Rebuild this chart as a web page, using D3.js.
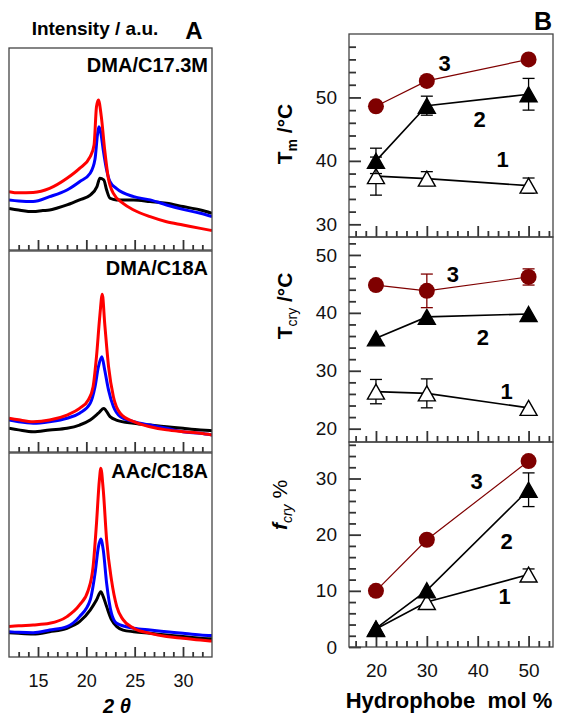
<!DOCTYPE html>
<html>
<head>
<meta charset="utf-8">
<script src="https://cdn.jsdelivr.net/npm/d3@7"></script>
<style>
  html, body { margin: 0; padding: 0; background: #fff; }
  svg { display: block; font-family: "Liberation Sans", Arial, sans-serif; }
</style>
</head>
<body>
<div id="chart"></div>
<script>
(() => {
  "use strict";

  // ---- Panel A: XRD patterns, [2theta, intensity a.u.] ----
  const c17Black = [[12,20.6],[13,19.8],[14.5,19],[15.5,19.5],[16.2,19.8],[17,20.8],[18,22.3],[19.3,24.8],[20.4,27.2],[21.1,31.4],[21.4,35.5],[21.8,34.7],[22.1,29.7],[22.45,25.6],[23.1,24.8],[24.9,24.8],[26.6,24],[28.3,23.1],[30,21.5],[31.8,19.8],[33,18.2]];
  const c17Blue = [[12,24.8],[13,24.3],[14.5,24],[16.2,26.4],[18,29.7],[19.3,33.8],[20.4,38],[20.9,45],[21.15,57],[21.3,61],[21.5,58],[21.75,49.5],[22.1,39.6],[22.45,33.8],[23.1,30.5],[24.9,26.4],[26.6,24.8],[28.3,22.3],[30,20.1],[31.8,18.2],[33,16.5]];
  const c17Red = [[12,28.9],[13,28.3],[14.5,28.5],[16.2,30.5],[18,35.5],[19.3,40.4],[20.4,46.2],[20.8,52],[21.05,70.9],[21.25,74.3],[21.55,66],[21.9,49.5],[22.25,36.3],[22.8,28],[23.8,23.1],[24.9,19.8],[26.6,16.5],[28.3,14],[30,12.4],[31.8,10.7],[33,9.6]];

  const c18Black = [[12,11.8],[13,11],[14.5,10.1],[16.2,11],[18,11.8],[19.3,13.4],[20.4,15.9],[21.25,19.3],[21.8,21.7],[22.45,17.6],[23.1,15.9],[24.9,14.3],[26.6,13.4],[28.3,12.6],[30,11.8],[31.8,11],[33,10.6]];
  const c18Blue = [[12,15.9],[13,15],[14.5,14.3],[16.2,15.1],[18,16.8],[19.3,19.3],[20.4,24.2],[20.9,32.5],[21.25,42.4],[21.6,47.4],[21.9,40.8],[22.3,30.8],[22.8,22.6],[23.5,17.6],[24.9,15.1],[26.6,13.4],[28.3,11.8],[30,10.1],[31.8,9.3],[33,8.5]];
  const c18Red = [[12,16.8],[13,16],[14.5,15.1],[16.2,15.9],[18,18.4],[19.3,21.7],[20.2,25.9],[20.7,32.5],[21.05,47.4],[21.4,68],[21.65,78.5],[21.9,64],[22.3,42.4],[22.8,27.5],[23.5,19.3],[24.9,15.1],[26.6,12.6],[28.3,11],[30,10.1],[31.8,9.3],[33,8.5]];

  const aacBlack = [[12,11.9],[13,11.6],[14.5,11.3],[16.2,12.4],[18,14.1],[19.3,17.3],[20.4,23],[21.05,27.9],[21.5,32],[21.75,29.6],[22.1,24.7],[22.6,18.3],[23.15,14.9],[23.8,13.2],[24.9,12.4],[26.6,11.6],[28.3,10.8],[30,10],[31.8,9.2],[33,8.9]];
  const aacBlue = [[12,12.4],[13,12.1],[14.5,11.9],[16.2,13.2],[18,14.9],[19.3,19.8],[20.4,27.9],[20.9,41],[21.25,54],[21.5,57.8],[21.75,52.5],[22.1,36.1],[22.6,21.4],[23.15,16.5],[24.9,14.1],[26.6,13.2],[28.3,12.4],[30,11.6],[31.8,10.8],[33,10.5]];
  const aacRed = [[12,14.9],[13,15.3],[14.5,15.7],[16.2,16.5],[18,19.8],[19.3,25.5],[20.2,32.8],[20.7,44.3],[21.05,65.4],[21.35,86.8],[21.5,92.5],[21.75,81.9],[22.1,57.4],[22.6,37.8],[23.15,24.7],[23.8,18.3],[24.9,14.1],[26.6,11.6],[28.3,10],[30,9.2],[31.8,8.3],[33,7.8]];

  const xrdPanels = [
    { name: "DMA/C17.3M", curves: [c17Black, c17Blue, c17Red] },
    { name: "DMA/C18A",   curves: [c18Black, c18Blue, c18Red] },
    { name: "AAc/C18A",   curves: [aacBlack, aacBlue, aacRed] }
  ];
  const xrdColors = ["#000000", "#0000ff", "#ff0000"];
  const xrdTickLabels = [15, 20, 25, 30];

  // ---- Panel B: thermal data vs hydrophobe mol % ----
  const hydrophobe = [20, 30, 50];
  const tm1 = [37.6, 37.2, 36.1], tm1Err = [3.0, 1.1, 1.2];
  const tm2 = [40.0, 48.7, 50.5], tm2Err = [2.0, 1.5, 2.5];
  const tm3 = [48.6, 52.6, 56.0], tm3Err = [0, 0, 0];
  const tc1 = [26.4, 26.1, 23.6], tc1Err = [2.1, 2.5, 0];
  const tc2 = [35.6, 39.3, 39.8], tc2Err = [0, 0, 0];
  const tc3 = [44.8, 43.8, 46.2], tc3Err = [0.8, 2.9, 1.4];
  const fc1 = [3.2, 8.0, 12.9], fc1Err = [0, 0, 1.0];
  const fc2 = [3.3, 10.1, 28.0], fc2Err = [0, 0, 3.0];
  const fc3 = [10.0, 19.1, 33.1], fc3Err = [0, 0, 0];
  const xTicksB = [20, 30, 40, 50];

  const W = 565, H = 718;
  const DARKRED = "#7f0000";
  const FRAME = "#444";
  const TICK = "#333";

  const svg = d3.select("#chart").append("svg").attr("width", W).attr("height", H);
  svg.append("rect").attr("width", W).attr("height", H).attr("fill", "#fff");

  function styleAxis(sel, fontSize) {
    sel.selectAll(".domain").remove();
    sel.selectAll(".tick line").attr("stroke", TICK).attr("stroke-width", 1.8);
    sel.selectAll(".tick text").attr("font-size", fontSize).attr("font-family", null).attr("fill", "#111");
  }

  // =================== Panel A ===================
  const aLeft = 9, aRight = 212;
  const aBoxes = [[48, 250], [251, 452], [453, 657]];
  const xA = d3.scaleLinear().domain([12, 33]).range([aLeft, aRight]);
  const minorA = d3.range(13, 33, 1).filter(v => v % 5 !== 0);

  svg.append("text").attr("x", 95).attr("y", 35).attr("text-anchor", "middle")
    .attr("font-size", 19).attr("font-weight", "bold").text("Intensity / a.u.");
  svg.append("text").attr("x", 194).attr("y", 39).attr("text-anchor", "middle")
    .attr("font-size", 24).attr("font-weight", "bold").text("A");

  xrdPanels.forEach((p, i) => {
    const [top, bot] = aBoxes[i];
    const y = d3.scaleLinear().domain([0, 100]).range([bot, top]);
    const g = svg.append("g");
    const line = d3.line().x(d => xA(d[0])).y(d => y(d[1])).curve(d3.curveMonotoneX);
    const clipId = "clipA" + i;
    svg.append("clipPath").attr("id", clipId).append("rect")
      .attr("x", aLeft).attr("y", top).attr("width", aRight - aLeft).attr("height", bot - top);
    g.append("g").attr("clip-path", `url(#${clipId})`)
      .selectAll("path").data(p.curves).join("path")
      .attr("d", line).attr("fill", "none")
      .attr("stroke", (d, k) => xrdColors[k]).attr("stroke-width", 3)
      .attr("stroke-linejoin", "round");

    const ga = g.append("g").attr("transform", `translate(0,${bot})`);
    ga.append("g").call(d3.axisBottom(xA).tickValues(minorA).tickSize(-5).tickFormat(() => ""));
    ga.append("g").call(d3.axisBottom(xA).tickValues(xrdTickLabels).tickSize(-10).tickPadding(17)
      .tickFormat(i === 2 ? d3.format("d") : () => ""));
    styleAxis(ga, 18);

    g.append("rect").attr("x", aLeft).attr("y", top).attr("width", aRight - aLeft).attr("height", bot - top)
      .attr("fill", "none").attr("stroke", FRAME).attr("stroke-width", 1.3);
    g.append("text").attr("x", aRight - 4).attr("y", top + (i === 2 ? 25 : 24)).attr("text-anchor", "end")
      .attr("font-size", 20).attr("font-weight", "bold").text(p.name);
  });

  svg.append("text").attr("x", 117).attr("y", 713).attr("text-anchor", "middle")
    .attr("font-size", 20).attr("font-weight", "bold").attr("font-style", "italic")
    .text("2 θ");

  // =================== Panel B ===================
  const bLeft = 349, bRight = 553;
  const xB = d3.scaleLinear().domain([14.7, 54.8]).range([bLeft, bRight]);
  const minorXB = d3.range(16, 55, 2).filter(v => v % 10 !== 0);

  svg.append("text").attr("x", 543).attr("y", 30).attr("text-anchor", "middle")
    .attr("font-size", 25).attr("font-weight", "bold").text("B");

  const panelsB = [
    { box: [34, 237], domain: [28, 60], major: [30, 40, 50], labelY: 134,
      series: [[tm1, tm1Err], [tm2, tm2Err], [tm3, tm3Err]],
      notes: [["3", 33.5, 54.1], ["2", 40.4, 45.4], ["1", 44.9, 39.05]], title: "tm" },
    { box: [237, 442], domain: [17.7, 53.1], major: [20, 30, 40, 50], labelY: 306,
      series: [[tc1, tc1Err], [tc2, tc2Err], [tc3, tc3Err]],
      notes: [["3", 35.1, 45.3], ["2", 41.0, 34.4], ["1", 45.7, 25.1]], title: "tc" },
    { box: [442, 647], domain: [0, 36.5], major: [0, 10, 20, 30], labelY: 505,
      series: [[fc1, fc1Err], [fc2, fc2Err], [fc3, fc3Err]],
      notes: [["3", 39.8, 28.1], ["2", 45.7, 17.4], ["1", 45.3, 7.6]], title: "fc" }
  ];

  // triangle centred on its bounding box
  const tri = (w, h) => `M0,${-h / 2}L${w / 2},${h / 2}L${-w / 2},${h / 2}Z`;

  panelsB.forEach((p, i) => {
    const [top, bot] = p.box;
    const y = d3.scaleLinear().domain(p.domain).range([bot, top]);
    const g = svg.append("g");

    // axes (ticks inside)
    const minorY = d3.range(Math.ceil(p.domain[0] / 2) * 2, p.domain[1], 2)
      .filter(v => v % 10 !== 0 && y(v) > top + 2 && y(v) < bot - 2);
    const gy = g.append("g").attr("transform", `translate(${bLeft},0)`);
    gy.append("g").call(d3.axisLeft(y).tickValues(minorY).tickSize(-7).tickFormat(() => ""));
    gy.append("g").call(d3.axisLeft(y).tickValues(p.major).tickSize(-12).tickPadding(12).tickFormat(d3.format("d")));
    styleAxis(gy, 19);

    const gx = g.append("g").attr("transform", `translate(0,${bot})`);
    gx.append("g").call(d3.axisBottom(xB).tickValues(minorXB).tickSize(-6).tickFormat(() => ""));
    gx.append("g").call(d3.axisBottom(xB).tickValues(xTicksB).tickSize(-11).tickPadding(17)
      .tickFormat(i === 2 ? d3.format("d") : () => ""));
    styleAxis(gx, 19);

    g.append("rect").attr("x", bLeft).attr("y", top).attr("width", bRight - bLeft).attr("height", bot - top)
      .attr("fill", "none").attr("stroke", FRAME).attr("stroke-width", 1.3);

    const styles = [
      { stroke: "#000", fill: "#fff", shape: "tri" },
      { stroke: "#000", fill: "#000", shape: "tri" },
      { stroke: DARKRED, fill: DARKRED, shape: "circle" }
    ];

    p.series.forEach(([vals, errs], s) => {
      const st = styles[s];
      const pts = hydrophobe.map((h, k) => ({ x: h, y: vals[k], e: errs[k] }));
      const sg = g.append("g");
      sg.append("path").datum(pts)
        .attr("d", d3.line().x(d => xB(d.x)).y(d => y(d.y)))
        .attr("fill", "none").attr("stroke", st.stroke).attr("stroke-width", s === 2 ? 1.2 : 1.6);
      const eb = sg.selectAll("g.err").data(pts.filter(d => d.e > 0)).join("g").attr("class", "err")
        .attr("stroke", st.stroke).attr("stroke-width", 1.3);
      eb.append("line").attr("x1", d => xB(d.x)).attr("x2", d => xB(d.x))
        .attr("y1", d => y(d.y - d.e)).attr("y2", d => y(d.y + d.e));
      eb.append("line").attr("x1", d => xB(d.x) - 6).attr("x2", d => xB(d.x) + 6)
        .attr("y1", d => y(d.y + d.e)).attr("y2", d => y(d.y + d.e));
      eb.append("line").attr("x1", d => xB(d.x) - 6).attr("x2", d => xB(d.x) + 6)
        .attr("y1", d => y(d.y - d.e)).attr("y2", d => y(d.y - d.e));
      if (st.shape === "circle") {
        sg.selectAll("circle").data(pts).join("circle")
          .attr("cx", d => xB(d.x)).attr("cy", d => y(d.y)).attr("r", 8)
          .attr("fill", st.fill);
      } else {
        sg.selectAll("path.m").data(pts).join("path").attr("class", "m")
          .attr("transform", d => `translate(${xB(d.x)},${y(d.y)})`)
          .attr("d", tri(17, 15)).attr("fill", st.fill).attr("stroke", "#000").attr("stroke-width", 1.4);
      }
    });

    g.selectAll("text.note").data(p.notes).join("text").attr("class", "note")
      .attr("x", d => xB(d[1])).attr("y", d => y(d[2])).attr("text-anchor", "middle")
      .attr("font-size", 22).attr("font-weight", "bold").text(d => d[0]);

    // y titles
    const lt = svg.append("text").attr("transform", `translate(${i === 2 ? 287 : 292},${p.labelY}) rotate(-90)`)
      .attr("text-anchor", "middle").attr("font-size", 21).attr("font-weight", "bold");
    if (p.title === "tm") {
      lt.append("tspan").text("T");
      lt.append("tspan").attr("font-size", 14).attr("dy", 5).text("m");
      lt.append("tspan").attr("dy", -5).text("  /°C");
    } else if (p.title === "tc") {
      lt.append("tspan").text("T");
      lt.append("tspan").attr("font-size", 14).attr("font-weight", "normal").attr("dy", 5).text("cry");
      lt.append("tspan").attr("dy", -5).text("  /°C");
    } else {
      lt.append("tspan").attr("font-style", "italic").text("f");
      lt.append("tspan").attr("font-size", 14).attr("font-style", "italic").attr("font-weight", "normal").attr("dy", 5).text("cry");
      lt.append("tspan").attr("font-weight", "normal").attr("dy", -5).text(" %");
    }
  });

  svg.append("text").attr("x", 449).attr("y", 708).attr("text-anchor", "middle")
    .attr("font-size", 22).attr("font-weight", "bold").attr("xml:space", "preserve")
    .text("Hydrophobe  mol %");
})();
</script>
</body>
</html>
